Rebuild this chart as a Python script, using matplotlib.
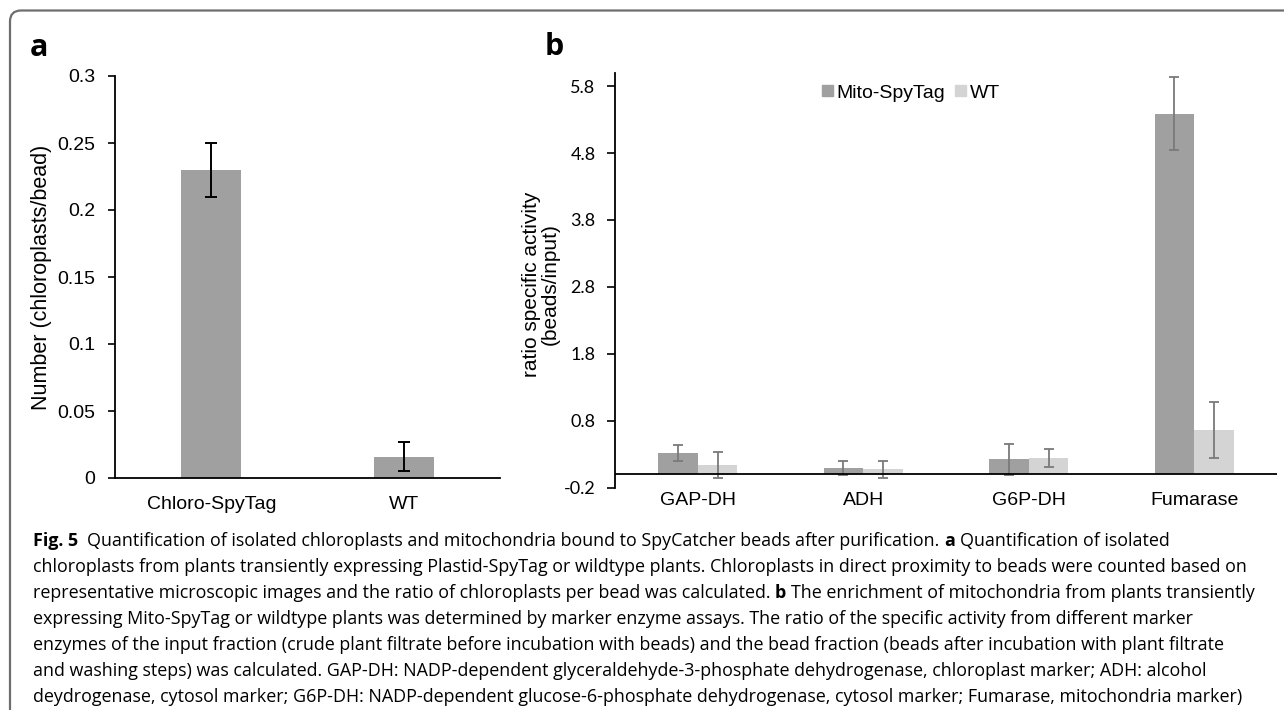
import numpy as np
import matplotlib
matplotlib.use("Agg")
import matplotlib.pyplot as plt
from matplotlib.patches import FancyBboxPatch, Patch
from matplotlib.transforms import IdentityTransform

plt.rcParams['font.family'] = ['Liberation Sans', 'DejaVu Sans']

# panel a data
cats_a = ['Chloro-SpyTag', 'WT']
vals_a = [0.23, 0.016]
err_a = [0.02, 0.011]

# panel b data
cats_b = ['GAP-DH', 'ADH', 'G6P-DH', 'Fumarase']
mito = [0.32, 0.095, 0.225, 5.39]
mito_err = [0.12, 0.10, 0.235, 0.55]
wt = [0.14, 0.075, 0.245, 0.665]
wt_err = [0.19, 0.125, 0.14, 0.415]
series_b = ['Mito-SpyTag', 'WT']

yticks_a = [0, 0.05, 0.1, 0.15, 0.2, 0.25, 0.3]
yticks_b = [-0.2, 0.8, 1.8, 2.8, 3.8, 4.8, 5.8]

caption = [
    [("Fig. 5", 'bold', 2), ("Quantification of isolated chloroplasts and mitochondria bound to SpyCatcher beads after purification.", 'normal', 1),
     ("a", 'bold', 1), ("Quantification of isolated", 'normal', 0)],
    [("chloroplasts from plants transiently expressing Plastid-SpyTag or wildtype plants. Chloroplasts in direct proximity to beads were counted based on", 'normal', 0)],
    [("representative microscopic images and the ratio of chloroplasts per bead was calculated.", 'normal', 1), ("b", 'bold', 1),
     ("The enrichment of mitochondria from plants transiently", 'normal', 0)],
    [("expressing Mito-SpyTag or wildtype plants was determined by marker enzyme assays. The ratio of the specific activity from different marker", 'normal', 0)],
    [("enzymes of the input fraction (crude plant filtrate before incubation with beads) and the bead fraction (beads after incubation with plant filtrate", 'normal', 0)],
    [("and washing steps) was calculated. GAP-DH: NADP-dependent glyceraldehyde-3-phosphate dehydrogenase, chloroplast marker; ADH: alcohol", 'normal', 0)],
    [("deydrogenase, cytosol marker; G6P-DH: NADP-dependent glucose-6-phosphate dehydrogenase, cytosol marker; Fumarase, mitochondria marker)", 'normal', 0)],
]

W, H = 1284, 710
fig = plt.figure(figsize=(W / 100, H / 100), dpi=100)

def px(x0, y0, x1, y1):
    # pixel box (top-left origin) -> figure fraction rect
    return [x0 / W, 1 - y1 / H, (x1 - x0) / W, (y1 - y0) / H]

dark = '#a0a0a0'
light = '#d4d4d4'

# ---- panel a ----
ax = fig.add_axes(px(115, 76, 500, 478))
xa = np.arange(len(cats_a))
ax.bar(xa, vals_a, width=0.31, color=dark, zorder=2)
ax.errorbar(xa, vals_a, yerr=err_a, fmt='none', ecolor='black', elinewidth=1.4,
            capsize=4, capthick=1.4, zorder=3)
ax.set_xlim(-0.5, 1.5)
ax.set_ylim(0, 0.3)
ax.set_yticks(yticks_a)
ax.set_yticklabels(['0', '0.05', '0.1', '0.15', '0.2', '0.25', '0.3'])
ax.set_xticks(xa)
ax.set_xticklabels(cats_a)
ax.tick_params(axis='y', length=5, width=1.2, pad=9, labelsize=14)
ax.tick_params(axis='x', length=0, pad=13, labelsize=14)
for s in ['top', 'right']:
    ax.spines[s].set_visible(False)
for s in ['left', 'bottom']:
    ax.spines[s].set_linewidth(1.3)
ax.set_ylabel('Number (chloroplasts/bead)', fontsize=15.5)
ax.yaxis.set_label_coords(-0.164, 0.5)

# ---- panel b ----
bx = fig.add_axes(px(615, 72.7, 1277, 487.7))
xb = np.arange(len(cats_b))
w = 0.239
bx.bar(xb - w / 2, mito, width=w, color=dark, zorder=2, label=series_b[0])
bx.bar(xb + w / 2, wt, width=w, color=light, zorder=2, label=series_b[1])
bx.errorbar(xb - w / 2, mito, yerr=mito_err, fmt='none', ecolor='#7a7a7a',
            elinewidth=1.3, capsize=3.5, capthick=1.3, zorder=3)
bx.errorbar(xb + w / 2, wt, yerr=wt_err, fmt='none', ecolor='#7a7a7a',
            elinewidth=1.3, capsize=3.5, capthick=1.3, zorder=3)
bx.axhline(0, color='black', lw=1.3, zorder=4)
bx.set_xlim(-0.5, 3.5)
bx.set_ylim(-0.2, 6.0)
bx.set_yticks(yticks_b)
bx.set_yticklabels([f'{v:.1f}' for v in yticks_b], fontfamily=['Lato', 'DejaVu Sans'])
bx.set_xticks(xb)
bx.set_xticklabels(cats_b)
bx.tick_params(axis='y', length=6, width=1.2, pad=8, labelsize=13)
bx.tick_params(axis='x', length=0, pad=3, labelsize=14)
for s in ['top', 'right', 'bottom']:
    bx.spines[s].set_visible(False)
bx.spines['left'].set_linewidth(1.3)
bx.set_ylabel('ratio specific activity\n(beads/input)', fontsize=15, linespacing=1.0)
bx.yaxis.set_label_coords(-0.083, 0.49)

handles = [Patch(color=dark), Patch(color=light)]
bx.legend(handles, series_b, loc='center left', bbox_to_anchor=(822 / W, 1 - 93 / H),
          bbox_transform=fig.transFigure, ncol=2, frameon=False, fontsize=14,
          handlelength=0.55, handleheight=0.55, handletextpad=0.2,
          columnspacing=0.5, borderpad=0, borderaxespad=0)

# panel letters
fig.text(30 / W, 1 - 56 / H, 'a', fontsize=22, fontweight='bold',
         family=['Open Sans', 'DejaVu Sans'], va='baseline')
fig.text(545 / W, 1 - 55 / H, 'b', fontsize=22, fontweight='bold',
         family=['Open Sans', 'DejaVu Sans'], va='baseline')

# rounded frame (only top/left visible)
frame = FancyBboxPatch((10, -60), 1400, H - 10.5 + 60, boxstyle='round,pad=0,rounding_size=11',
                       transform=IdentityTransform(), fill=False, ec='#6e6e6e', lw=1.6)
fig.add_artist(frame)

# caption
renderer = fig.canvas.get_renderer()
cap_font = ['Open Sans', 'DejaVu Sans']

def text_w(s, size, weight='normal'):
    t = fig.text(0, 0, s, fontsize=size, fontweight=weight, family=cap_font)
    wdt = t.get_window_extent(renderer).width
    t.remove()
    return wdt

def line_width(runs, size):
    sp = text_w('a a', size) - text_w('aa', size)
    return sum(text_w(s, size, wt_) + n * sp for s, wt_, n in runs)

size0 = 14
size = size0 * (1248 - 33) / line_width(caption[6], size0)
space = text_w('a a', size) - text_w('aa', size)
y = 546
for runs in caption:
    x = 33
    for s, weight, n in runs:
        t = fig.text(x / W, 1 - y / H, s, fontsize=size, fontweight=weight,
                     family=cap_font, va='baseline', ha='left')
        x += t.get_window_extent(renderer).width + n * space
    y += 26

fig.savefig('out.png', dpi=100)
